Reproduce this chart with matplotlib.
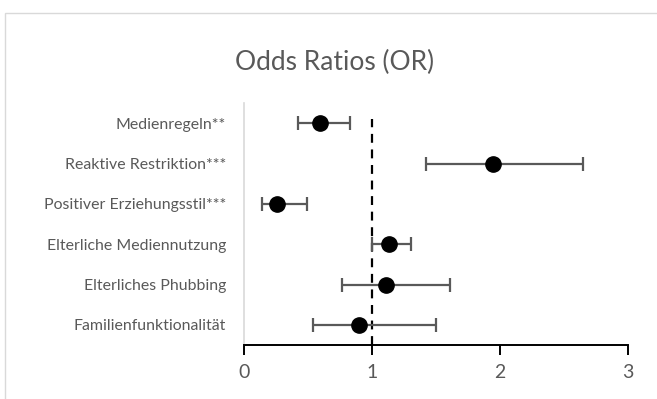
import numpy as np
import matplotlib.pyplot as plt
from matplotlib.patches import Rectangle

plt.rcParams["font.family"] = ["Lato", "DejaVu Sans"]

# data (top to bottom)
labels = ["Medienregeln**", "Reaktive Restriktion***", "Positiver Erziehungsstil***",
          "Elterliche Mediennutzung", "Elterliches Phubbing", "Familienfunktionalität"]
odds = [0.59, 1.94, 0.26, 1.13, 1.11, 0.90]
ci_low = [0.42, 1.42, 0.14, 1.00, 0.765, 0.54]
ci_high = [0.83, 2.65, 0.49, 1.30, 1.61, 1.50]

grey = "#595959"

fig = plt.figure(figsize=(6.57, 3.99), dpi=100)
# chart frame like the excel chart area
fig.patches.append(Rectangle((5 / 657, -0.1), 1.0, (399 - 13) / 399 + 0.1,
                             transform=fig.transFigure, fill=False,
                             edgecolor="#d9d9d9", lw=1.0))

ax = fig.add_axes([244 / 657, (399 - 345) / 399, (628.3 - 244) / 657, (345 - 103) / 399])

ypos = np.arange(len(labels))[::-1] + 0.5
odds = np.array(odds)
xerr = [odds - np.array(ci_low), np.array(ci_high) - odds]

ax.vlines(1, 0, 5.6, colors="black", linestyles=(0, (4, 3)), lw=1.6, zorder=1)
ax.errorbar(odds, ypos, xerr=xerr, fmt="o", color="black", ms=11,
            ecolor=grey, elinewidth=1.6, capsize=5, capthick=1.6, zorder=3)

ax.set_xlim(0, 3)
ax.set_ylim(0, 6)
ax.set_xticks([0, 1, 2, 3])
ax.set_yticks(ypos)
ax.set_yticklabels(labels)

for s in ["top", "right"]:
    ax.spines[s].set_visible(False)
ax.spines["left"].set_color("#d9d9d9")
ax.spines["left"].set_linewidth(1.2)
ax.spines["bottom"].set_color("black")
ax.spines["bottom"].set_linewidth(1.4)

ax.tick_params(axis="y", length=0, pad=13, labelsize=11.4, labelcolor=grey)
ax.tick_params(axis="x", length=7, width=1.4, color="black", pad=7,
               labelsize=14, labelcolor=grey)

fig.text(335 / 657, 1 - 62 / 399, "Odds Ratios (OR)", ha="center", va="center",
         fontsize=19, color=grey)

fig.savefig("out.png", dpi=100)
